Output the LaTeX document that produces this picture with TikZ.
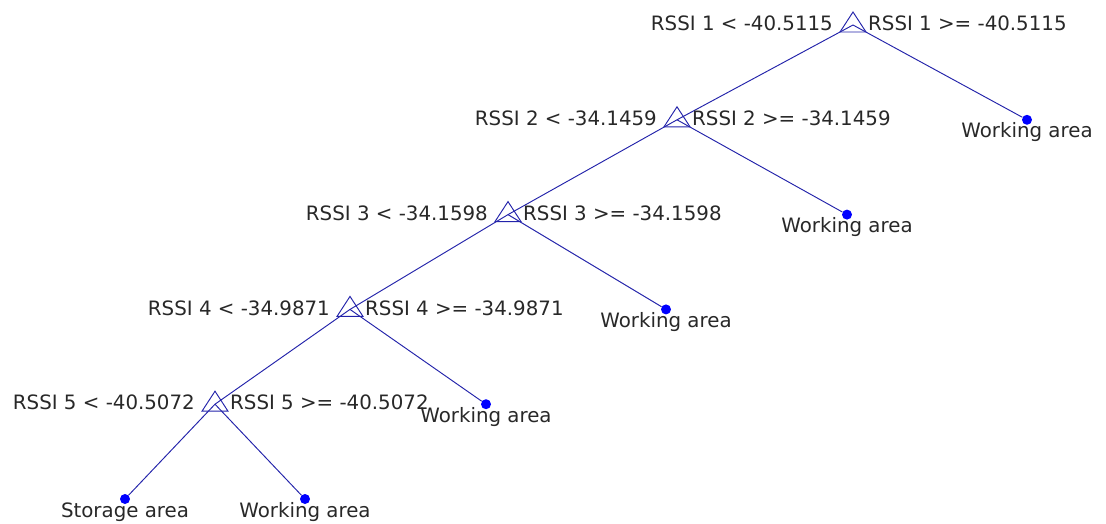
\documentclass[tikz,border=0pt]{standalone}
\usepackage{fontspec}
\setmainfont{DejaVu Sans}
\definecolor{edgeblue}{RGB}{35,35,170}
\definecolor{dotblue}{RGB}{0,0,255}
\definecolor{txtgray}{RGB}{40,40,40}
\tikzset{
  edge/.style={edgeblue,line width=0.95pt},
  leaf/.style={circle,fill=dotblue,inner sep=0pt,minimum size=10pt},
  lbl/.style={inner sep=0pt,text=txtgray,font=\fontsize{19.8}{24}\selectfont},
}
\begin{document}
\begin{tikzpicture}[x=1pt,y=-1pt]
\useasboundingbox (0,0) rectangle (1106,523);
% split points
\foreach \n/\x/\y in {n1/853/25,n2/677/119.8,n3/508/214.6,n4/350/309.4,n5/215/404.2}
  \coordinate (\n) at (\x,\y);
% leaves
\foreach \l/\x/\y in {w1/1027/119.8,w2/847/214.6,w3/666/309.4,w4/486/404.2,s5/125/499,w5/305/499}
  \node[leaf] (\l) at (\x,\y) {};
\foreach \a/\b in {n1/n2,n1/w1,n2/n3,n2/w2,n3/n4,n3/w3,n4/n5,n4/w4,n5/s5,n5/w5}
  \draw[edge] (\a) -- (\b);
% triangle markers
\foreach \n in {n1,n2,n3,n4,n5}
  \draw[edge] ([shift={(0,-13)}]\n) -- ([shift={(13,7)}]\n) -- ([shift={(-13,7)}]\n) -- cycle;
% split rules
\foreach \n/\k/\v in {n1/1/40.5115,n2/2/34.1459,n3/3/34.1598,n4/4/34.9871,n5/5/40.5072} {
  \node[lbl,anchor=base east] (\n-lo) at ([shift={(-20,5.7)}]\n) {RSSI \k{} < -\v};
  \node[lbl,anchor=base west] (\n-hi) at ([shift={(15,5.7)}]\n) {RSSI \k{} >= -\v};
}
% leaf classes
\foreach \l/\c in {w1/Working area,w2/Working area,w3/Working area,w4/Working area,s5/Storage area,w5/Working area}
  \node[lbl,anchor=base] (\l-t) at ([shift={(0,18)}]\l) {\c};
\end{tikzpicture}
\end{document}
